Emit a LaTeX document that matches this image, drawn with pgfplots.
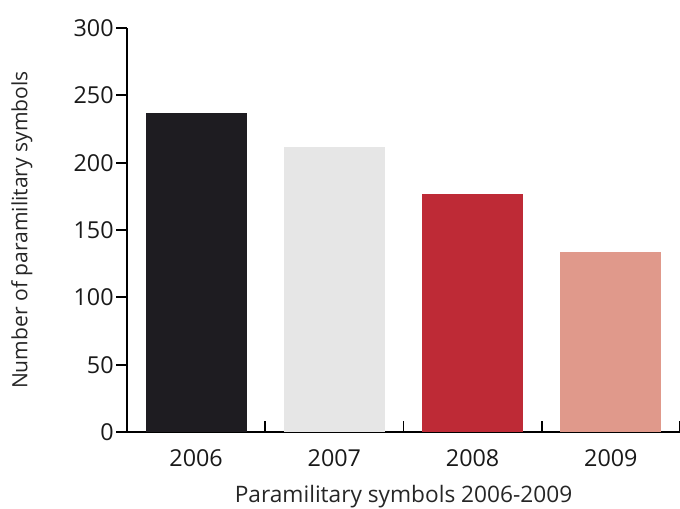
\documentclass[border=0pt]{standalone}
\usepackage{fontspec}
\setmainfont{Open Sans}
\usepackage{pgfplots}
\pgfplotsset{compat=1.18}
\definecolor{c06}{HTML}{1E1C21}
\definecolor{c07}{HTML}{E6E6E6}
\definecolor{c08}{HTML}{BE2A36}
\definecolor{c09}{HTML}{E0998B}
\begin{document}
\begin{tikzpicture}
\path[use as bounding box] (-95.25pt,-57pt) rectangle (414.75pt,324pt);
\begin{axis}[
  scale only axis,
  width=414.75pt, height=303pt,
  xmin=-0.5, xmax=3.5,
  ymin=0, ymax=300,
  axis x line*=bottom, axis y line*=left,
  axis line style={line width=1.3pt, black},
  ytick={0,50,100,150,200,250,300},
  xtick={0.5,1.5,2.5,3.5},
  xticklabels={},
  extra x ticks={0,1,2,3},
  extra x tick labels={2006,2007,2008,2009},
  extra x tick style={major tick length=0pt},
  tick style={draw=black, line width=1.3pt},
  major tick length=-8pt,
  ticklabel style={font=\fontsize{17.5}{20}\selectfont, text=black!90},
  /pgf/number format/assume math mode=true,
  xticklabel style={yshift=-10pt},
  yticklabel style={xshift=-6.5pt},
  xlabel={Paramilitary symbols 2006-2009},
  ylabel={Number of paramilitary symbols},
  xlabel style={font=\fontsize{17}{20}\selectfont, text=black!85, yshift=-14.5pt},
  ylabel style={font=\fontsize{15.8}{19}\selectfont, text=black!85, yshift=24pt},
  ybar, bar width=75.75pt,
  clip=false,
]
\addplot[fill=c06, draw=none, bar shift=0pt] coordinates {(0,237)};
\addplot[fill=c07, draw=none, bar shift=0pt] coordinates {(1,212)};
\addplot[fill=c08, draw=none, bar shift=0pt] coordinates {(2,177)};
\addplot[fill=c09, draw=none, bar shift=0pt] coordinates {(3,134)};
\end{axis}
\end{tikzpicture}
\end{document}
